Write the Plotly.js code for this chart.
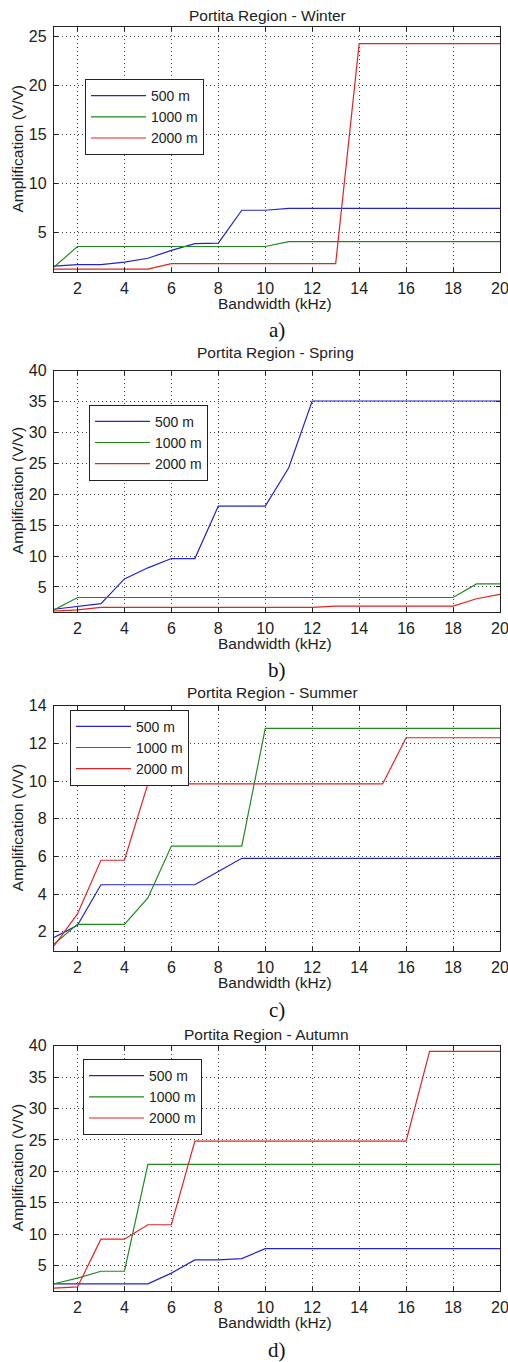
<!DOCTYPE html>
<html>
<head>
<meta charset="utf-8">
<script src="https://cdn.plot.ly/plotly-3.0.1.min.js"></script>
<style>html,body{margin:0;padding:0;background:#fff;}#chart{width:508px;height:1362px;}</style>
</head>
<body>
<div id="chart"></div>
<script>
// ---- data ----
var bandwidth = [1,2,3,4,5,6,7,8,9,10,11,12,13,14,15,16,17,18,19,20];
var seriesNames = ['500 m', '1000 m', '2000 m'];
var panelTitles = ['Portita Region - Winter', 'Portita Region - Spring', 'Portita Region - Summer', 'Portita Region - Autumn'];
var panelLetters = ['a)', 'b)', 'c)', 'd)'];
var xTickVals = [2,4,6,8,10,12,14,16,18,20];
var yTicksWinter = [5,10,15,20,25];
var yTicksSpring = [5,10,15,20,25,30,35,40];
var yTicksSummer = [2,4,6,8,10,12,14];
var yTicksAutumn = [5,10,15,20,25,30,35,40];

var winter500  = [1.6,1.75,1.75,2.0,2.4,3.2,3.9,3.95,7.3,7.3,7.5,7.5,7.5,7.5,7.5,7.5,7.5,7.5,7.5,7.5];
var winter1000 = [1.5,3.6,3.6,3.6,3.6,3.6,3.6,3.6,3.6,3.6,4.1,4.1,4.1,4.1,4.1,4.1,4.1,4.1,4.1,4.1];
var winter2000 = [1.3,1.3,1.3,1.3,1.3,1.85,1.85,1.85,1.85,1.85,1.85,1.85,1.85,24.3,24.3,24.3,24.3,24.3,24.3,24.3];

var spring500  = [1.4,1.9,2.3,6.3,8.1,9.6,9.6,18.1,18.1,18.1,24.3,35.1,35.1,35.1,35.1,35.1,35.1,35.1,35.1,35.1];
var spring1000 = [1.3,3.3,3.3,3.3,3.3,3.3,3.3,3.3,3.3,3.3,3.3,3.3,3.3,3.3,3.3,3.3,3.3,3.3,5.5,5.5];
var spring2000 = [1.1,1.3,1.7,1.7,1.7,1.7,1.7,1.7,1.7,1.7,1.7,1.7,1.9,1.9,1.9,1.9,1.9,1.9,3.1,3.8];

var summer500  = [1.7,2.35,4.5,4.5,4.5,4.5,4.5,5.2,5.9,5.9,5.9,5.9,5.9,5.9,5.9,5.9,5.9,5.9,5.9,5.9];
var summer1000 = [1.35,2.4,2.4,2.4,3.8,6.55,6.55,6.55,6.55,12.8,12.8,12.8,12.8,12.8,12.8,12.8,12.8,12.8,12.8,12.8];
var summer2000 = [1.25,2.95,5.8,5.8,9.85,9.85,9.85,9.85,9.85,9.85,9.85,9.85,9.85,9.85,9.85,12.3,12.3,12.3,12.3,12.3];

var autumn500  = [2.1,2.1,2.1,2.1,2.1,3.8,5.9,5.9,6.1,7.7,7.7,7.7,7.7,7.7,7.7,7.7,7.7,7.7,7.7,7.7];
var autumn1000 = [2.1,3.0,4.1,4.1,21.1,21.1,21.1,21.1,21.1,21.1,21.1,21.1,21.1,21.1,21.1,21.1,21.1,21.1,21.1,21.1];
var autumn2000 = [1.4,1.6,9.2,9.2,11.5,11.5,24.8,24.8,24.8,24.8,24.8,24.8,24.8,24.8,24.8,24.8,39.1,39.1,39.1,39.1];

// ---- styling / layout ----
var W = 508, H = 1362;
var colors = ['#2424c8', '#208a20', '#e02424'];
var panels = [
  {series:[winter500, winter1000, winter2000], yr:[1,26], yt:yTicksWinter, top:27, bot:272, title:16, xt:304, lab:330, tx:267, leg:[85,79]},
  {series:[spring500, spring1000, spring2000], yr:[1,40], yt:yTicksSpring, top:370.7, bot:611.7, title:352.7, xt:643.3, lab:670, tx:275, leg:[89,404.7]},
  {series:[summer500, summer1000, summer2000], yr:[1,14], yt:yTicksSummer, top:705.7, bot:950.7, title:692.7, xt:982.7, lab:1009.5, tx:272, leg:[70,709.7]},
  {series:[autumn500, autumn1000, autumn2000], yr:[1,40], yt:yTicksAutumn, top:1045.7, bot:1290.7, title:1034.3, xt:1322.7, lab:1350, tx:266, leg:[83,1059]}
];
var L = 54, R = 500;
function py(v){ return 1 - v / H; }

var traces = [], annotations = [];
var layout = {
  width: W, height: H,
  margin: {l:0, r:0, t:0, b:0},
  paper_bgcolor: '#fff', plot_bgcolor: '#fff',
  showlegend: true,
  font: {family: 'Liberation Sans, Arial, sans-serif', color: '#222'}
};
var tickFont = {family: 'Liberation Sans Narrow, Arial Narrow, Liberation Sans, sans-serif', size: 16, color: '#222'};
var textFont = {family: 'Liberation Sans, Arial, sans-serif', size: 15.5, color: '#222'};

panels.forEach(function(p, i){
  var n = i === 0 ? '' : String(i + 1);
  var legName = 'legend' + n;
  p.series.forEach(function(ys, j){
    traces.push({
      x: bandwidth, y: ys, type: 'scatter', mode: 'lines',
      name: seriesNames[j], xaxis: 'x' + n, yaxis: 'y' + n,
      legend: legName,
      line: {color: colors[j], width: 1.2}
    });
  });
  var axCommon = {
    showline: true, linecolor: '#222', linewidth: 1.2, mirror: 'ticks',
    ticks: 'inside', ticklen: 4, tickcolor: '#222', tickwidth: 1,
    showgrid: true, gridcolor: '#444', gridwidth: 1, griddash: '1px,3px',
    zeroline: false, tickfont: tickFont, fixedrange: true,
    ticklabeloverflow: 'allow'
  };
  layout['xaxis' + n] = Object.assign({}, axCommon, {
    domain: [L / W, R / W], range: [1, 20], tickvals: xTickVals,
    anchor: 'y' + n, automargin: false, ticklabelstandoff: 2
  });
  layout['yaxis' + n] = Object.assign({}, axCommon, {
    domain: [py(p.bot), py(p.top)], range: p.yr, tickvals: p.yt,
    anchor: 'x' + n, automargin: false, ticklabelstandoff: 3
  });
  layout[legName] = {
    x: p.leg[0] / W, y: py(p.leg[1]), xanchor: 'left', yanchor: 'top',
    bgcolor: '#fff', bordercolor: '#222', borderwidth: 1,
    font: {family: 'Liberation Sans, Arial, sans-serif', size: 14, color: '#222'},
    itemwidth: 55, tracegroupgap: 0
  };
  annotations.push({text: panelTitles[i], xref:'paper', yref:'paper', x: p.tx / W, y: py(p.title),
    xanchor:'center', yanchor:'middle', showarrow:false, font:textFont});
  annotations.push({text: 'Bandwidth (kHz)', xref:'paper', yref:'paper', x: 275 / W, y: py(p.xt),
    xanchor:'center', yanchor:'middle', showarrow:false, font:textFont});
  annotations.push({text: 'Amplification (V/V)', xref:'paper', yref:'paper', x: 17 / W, y: py((p.top + p.bot) / 2),
    xanchor:'center', yanchor:'middle', textangle: -90, showarrow:false, font:textFont});
  annotations.push({text: panelLetters[i], xref:'paper', yref:'paper', x: 277 / W, y: py(p.lab),
    xanchor:'center', yanchor:'middle', showarrow:false, font:{family:'Liberation Serif, Times New Roman, serif', size:21, color:'#111'}});
});
layout.annotations = annotations;

Plotly.newPlot('chart', traces, layout, {displayModeBar: false, staticPlot: true});
</script>
</body>
</html>
